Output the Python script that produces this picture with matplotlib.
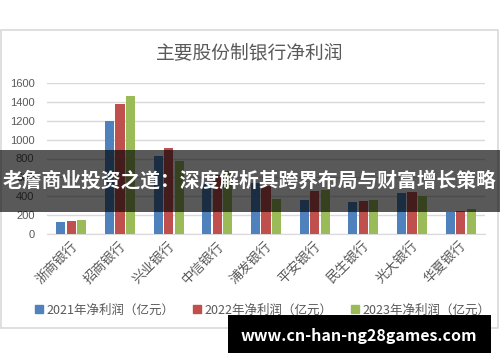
import matplotlib
matplotlib.use("Agg")
import matplotlib.pyplot as plt
import numpy as np
from matplotlib.patches import Rectangle, Patch

plt.rcParams['font.family'] = ['Noto Sans CJK SC', 'DejaVu Sans']

### data

banks = ['浙商银行', '招商银行', '兴业银行', '中信银行', '浦发银行',
         '平安银行', '民生银行', '光大银行', '华夏银行']
profit_2021 = [124, 1199, 826, 556, 537, 363, 343, 434, 236]
profit_2022 = [137, 1380, 912, 621, 512, 455, 350, 448, 249]
profit_2023 = [152, 1466, 771, 668, 367, 464, 356, 407, 265]
series_names = ['2021年净利润（亿元）', '2022年净利润（亿元）', '2023年净利润（亿元）']
yticks = [0, 200, 400, 600, 800, 1000, 1200, 1400, 1600]

colors = ['#4f81bd', '#c0504d', '#9bbb59']
gray = '#595959'

### figure

fig = plt.figure(figsize=(5, 3.62), dpi=100)
W, H = 500, 362

# outer chart frame
fig.patches.append(Rectangle((0.5 / W, 1 - 328 / H), 497 / W, 298 / H,
                             transform=fig.transFigure, fill=False,
                             edgecolor='#d9d9d9', linewidth=1.2))

ax = fig.add_axes([47 / W, 1 - 234 / H, 438 / W, 151 / H])

x = np.arange(len(banks))
bw = 0.19
step = 0.215
all_series = [profit_2021, profit_2022, profit_2023]
for i in range(3):
    ax.bar(x + (i - 1) * step, all_series[i], width=bw, color=colors[i], zorder=3)

ax.set_xlim(-0.5, len(banks) - 0.5)
ax.set_ylim(0, 1600)
ax.set_yticks(yticks)
ax.set_yticklabels([str(v) for v in yticks], fontsize=8, color=gray,
                   family=['Liberation Sans', 'DejaVu Sans'])
ax.yaxis.grid(True, color='#d9d9d9', linewidth=1, zorder=0)
ax.tick_params(axis='y', length=0, pad=9)
ax.tick_params(axis='x', length=0, pad=4)
ax.set_xticks(x + 0.18)
ax.set_xticklabels(banks, rotation=45, ha='right', va='top', fontsize=9.5, color=gray)
for side in ['top', 'right', 'left']:
    ax.spines[side].set_visible(False)
ax.spines['bottom'].set_color('#d9d9d9')

fig.text(0.5, 1 - 54 / H, '主要股份制银行净利润', ha='center', va='center',
         fontsize=13.5, color=gray)

handles = [Patch(color=colors[i], label=series_names[i]) for i in range(3)]
fig.legend(handles=handles, loc='center', bbox_to_anchor=(0.526, 1 - 310 / H),
           ncol=3, frameon=False, fontsize=9, handlelength=0.6, handleheight=0.6,
           handletextpad=0.3, columnspacing=1.5, labelcolor=gray)

### overlays

fig.patches.append(Rectangle((0, 1 - 212 / H), 1, 62 / H, transform=fig.transFigure,
                             facecolor='black', alpha=0.65, zorder=10))
fig.text(0.5, 1 - 181 / H, '老詹商业投资之道：深度解析其跨界布局与财富增长策略',
         ha='center', va='center', fontsize=14.2, fontweight='bold', color='white', zorder=11)

fig.patches.append(Rectangle((228 / W, 1 - 353 / H), 263 / W, 38 / H,
                             transform=fig.transFigure, facecolor='black', zorder=10))
fig.text(359 / W, 1 - 336 / H, 'www.cn-han-ng28games.com', ha='center', va='center',
         fontsize=11.5, fontweight='bold', color='white', zorder=11)

fig.savefig('out.png', dpi=100)
